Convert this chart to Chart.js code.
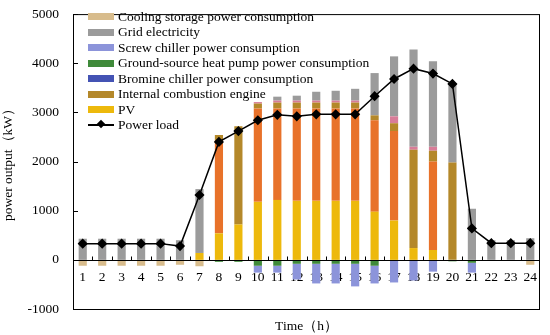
<!DOCTYPE html>
<html lang="en">
<head>
  <meta charset="UTF-8">
  <title>Power output</title>
  <script src="https://cdn.jsdelivr.net/npm/chart.js"></script>
  <style>
    body {
      margin: 0;
      background: #fff;
      font-family: "Liberation Serif", "Times New Roman", serif;
    }
    #wrap {
      position: relative;
      width: 550px;
      height: 335px;
    }
    #legend {
      position: absolute;
      left: 88px;
      top: 9px;
      font-size: 13.5px;
      color: #000;
    }
    .item {
      display: flex;
      align-items: center;
      height: 15.5px;
      white-space: nowrap;
    }
    .swatch {
      width: 26px;
      height: 7px;
      margin-right: 4px;
    }
    .lineswatch {
      position: relative;
      width: 26px;
      height: 2px;
      margin-right: 4px;
      background: #000;
    }
    .lineswatch::after {
      content: "";
      position: absolute;
      left: 10px;
      top: -3px;
      width: 6px;
      height: 6px;
      background: #000;
      transform: rotate(45deg);
    }
  </style>
</head>
<body>
  <div id="wrap">
    <canvas id="chart" width="550" height="335"></canvas>
    <div id="legend"></div>
  </div>

  <script>
    const hours = ["1","2","3","4","5","6","7","8","9","10","11","12","13","14","15","16","17","18","19","20","21","22","23","24"];

    // positive side, bottom to top
    const pv          = [0,0,0,0,0,0,140,540,720,1180,1220,1200,1200,1200,1200,980,800,240,200,0,0,0,0,0];
    const otherSupply = [0,0,0,0,0,0,0,1900,0,1900,1860,1880,1880,1880,1880,1860,1820,0,1800,0,0,0,0,0];
    const engine      = [0,0,0,0,0,0,0,100,2000,100,120,120,120,120,120,100,160,2000,220,1980,0,0,0,0];
    const otherPink   = [0,0,0,0,0,0,0,0,0,30,40,40,40,40,40,0,140,60,80,0,0,0,0,0];
    const grid        = [430,430,430,430,430,400,1300,0,0,0,80,100,180,200,240,860,1220,1980,1740,1620,1040,400,400,440];

    // negative side, axis downwards
    const groundSource = [0,0,0,0,0,0,0,-40,-40,-120,-120,-80,-80,-80,-80,-120,-20,0,0,-30,-60,0,0,0];
    const screwChiller = [0,0,0,0,0,0,0,0,0,-140,-140,-320,-400,-400,-460,-360,-440,-420,-240,0,-200,0,0,0];
    const bromine      = [0,0,0,0,0,0,0,0,0,0,0,0,0,0,0,0,0,0,0,0,0,0,0,0];
    const coolStorage  = [-120,-120,-120,-120,-120,-100,-130,0,0,0,0,0,0,0,0,0,0,0,0,0,0,0,0,-100];

    const powerLoad = [330,330,330,330,330,280,1320,2400,2620,2840,2950,2920,2960,2960,2960,3330,3680,3890,3790,3580,640,340,340,340];

    const yTicks = [-1000, 0, 1000, 2000, 3000, 4000, 5000];

    function bar(label, data, color, inLegend) {
      return {
        type: 'bar', label: label, data: data, backgroundColor: color,
        stack: 'supply', order: 1, barPercentage: 0.42, categoryPercentage: 1,
        inLegend: inLegend
      };
    }

    const datasets = [
      {
        type: 'line', label: 'Power load', data: powerLoad, stack: 'load', order: 0,
        borderColor: '#000', borderWidth: 1.5, pointStyle: 'rectRot', pointRadius: 4,
        pointBackgroundColor: '#000', pointBorderColor: '#000', tension: 0
      },
      bar('PV', pv, '#EDB90C', true),
      bar('Gas turbine', otherSupply, '#E8722A', false),
      bar('Internal combustion engine', engine, '#B4882A', true),
      bar('Other', otherPink, '#D87C98', false),
      bar('Grid electricity', grid, '#9B9B9B', true),
      bar('Ground-source heat pump power consumption', groundSource, '#3F8A3A', true),
      bar('Screw chiller power consumption', screwChiller, '#8C94DA', true),
      bar('Bromine chiller power consumption', bromine, '#4453B4', true),
      bar('Cooling storage power consumption', coolStorage, '#D8BC8C', true)
    ];

    // frame round the plot and inward tick marks
    const framePlugin = {
      id: 'frame',
      afterDraw(chart) {
        const ctx = chart.ctx;
        const a = chart.chartArea;
        const y = chart.scales.y;
        const x = chart.scales.x;
        ctx.save();
        ctx.strokeStyle = '#000';
        ctx.lineWidth = 1;
        ctx.strokeRect(a.left + 0.5, a.top + 0.5, a.right - a.left - 1, a.bottom - a.top);
        ctx.beginPath();
        yTicks.forEach(v => {
          const p = Math.round(y.getPixelForValue(v)) + 0.5;
          ctx.moveTo(a.left, p);
          ctx.lineTo(a.left + 5, p);
        });
        const y0 = Math.round(y.getPixelForValue(0)) + 0.5;
        ctx.moveTo(a.left, y0);
        ctx.lineTo(a.right, y0);
        for (let i = 0; i < hours.length - 1; i++) {
          const p = Math.round((x.getPixelForValue(i) + x.getPixelForValue(i + 1)) / 2) + 0.5;
          ctx.moveTo(p, y0);
          ctx.lineTo(p, y0 - 4);
        }
        ctx.stroke();
        ctx.restore();
      }
    };

    const font = { family: '"Liberation Serif", "Times New Roman", serif', size: 13.5 };

    new Chart(document.getElementById('chart'), {
      data: { labels: hours, datasets: datasets },
      plugins: [framePlugin],
      options: {
        responsive: false,
        animation: false,
        layout: { padding: { top: 8, right: 10, left: 0, bottom: 0 } },
        plugins: { legend: { display: false }, tooltip: { enabled: false } },
        scales: {
          x: {
            type: 'category',
            stacked: true,
            position: { y: 0 },
            grid: { display: false },
            border: { display: false },
            ticks: { color: '#000', font: font, padding: 2, maxRotation: 0, autoSkip: false }
          },
          xb: {
            type: 'category',
            position: 'bottom',
            labels: hours,
            grid: { display: false },
            border: { display: false },
            ticks: { display: false },
            title: { display: true, text: 'Time（h）', color: '#000', font: font, padding: { top: 3, bottom: 0 } },
            afterFit(scale) { scale.height = 26; }
          },
          y: {
            stacked: true,
            min: -1000,
            max: 5000,
            grid: { display: false },
            border: { display: false },
            ticks: { stepSize: 1000, color: '#000', font: font, padding: 6, callback: v => String(v) },
            title: { display: true, text: 'power output（kW）', color: '#000', font: font, padding: { top: 0, bottom: 2 } },
            afterFit(scale) { scale.width = 73; }
          }
        }
      }
    });

    // legend in the same order as the reference
    const legendOrder = [
      'Cooling storage power consumption', 'Grid electricity', 'Screw chiller power consumption',
      'Ground-source heat pump power consumption', 'Bromine chiller power consumption',
      'Internal combustion engine', 'PV', 'Power load'
    ];
    const legend = document.getElementById('legend');
    legendOrder.forEach(name => {
      const ds = datasets.find(d => d.label === name);
      const row = document.createElement('div');
      row.className = 'item';
      const sw = document.createElement('span');
      if (ds.type === 'line') {
        sw.className = 'lineswatch';
      } else {
        sw.className = 'swatch';
        sw.style.background = ds.backgroundColor;
      }
      const txt = document.createElement('span');
      txt.innerText = name;
      row.appendChild(sw);
      row.appendChild(txt);
      legend.appendChild(row);
    });
  </script>
</body>
</html>
